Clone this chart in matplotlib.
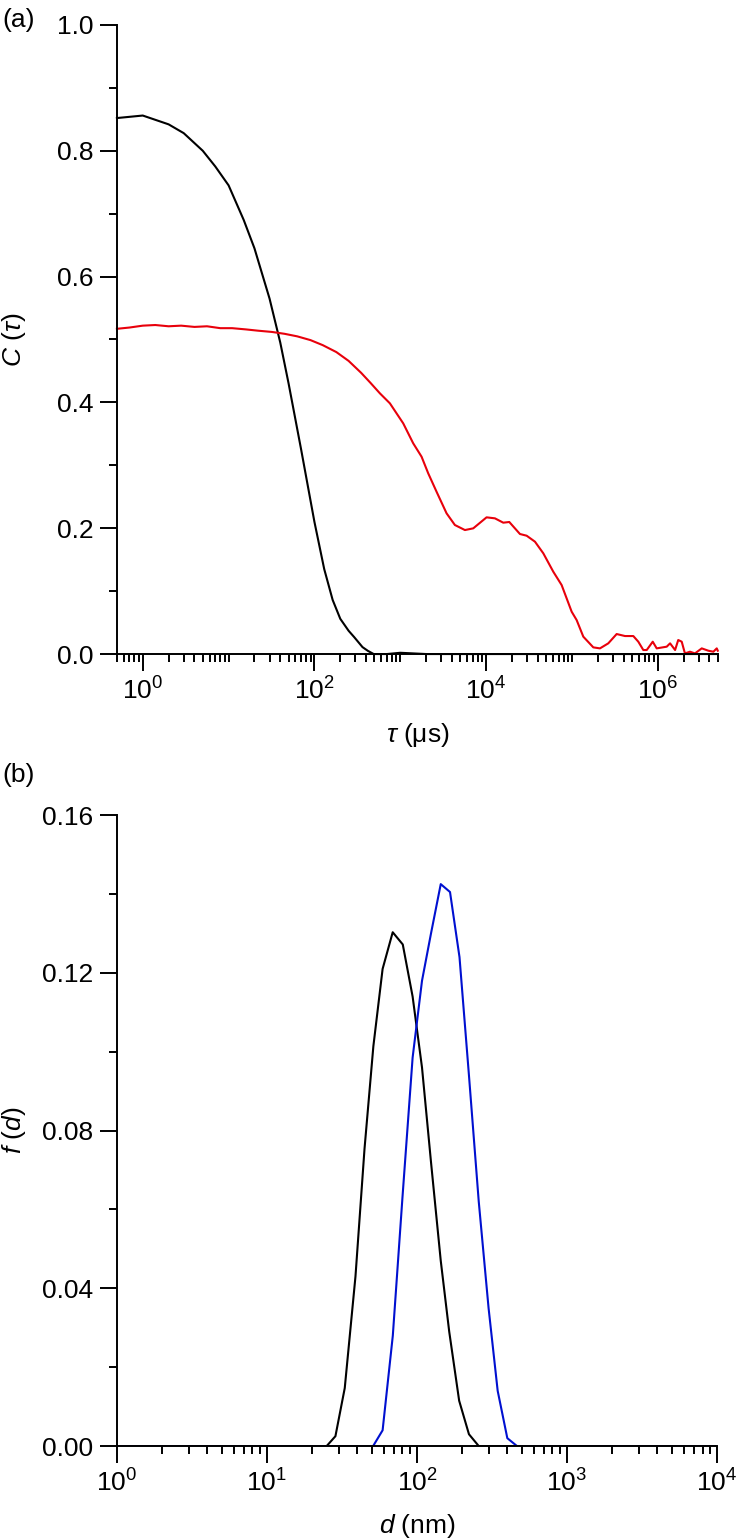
import numpy as np
import matplotlib
matplotlib.use('Agg')
import matplotlib.pyplot as plt
from matplotlib.ticker import (FixedLocator, LogLocator, MultipleLocator,
                               FormatStrFormatter, LogFormatterSciNotation)

# ------------ DATA ------------
# (a) correlation functions
tau_black = [0.5, 1, 2, 3, 5, 7, 10, 15, 20, 30, 40, 50, 70, 100, 130, 163,
             200, 250, 290, 363, 420, 490, 700, 1000, 2000, 1e4, 1e5, 1e6, 5e6]
c_black = [0.852, 0.856, 0.842, 0.828, 0.80, 0.775, 0.745, 0.69, 0.645,
           0.565, 0.495, 0.43, 0.325, 0.21, 0.135, 0.086, 0.056, 0.037,
           0.027, 0.011, 0.005, 0.0, 0.0, 0.002, 0.0, 0.0, 0.0, 0.0, 0.0]

tau_red = [0.5, 0.7, 1, 1.4, 2, 2.8, 4, 5.6, 8, 11, 16, 22, 32, 45, 63, 90,
           125, 180, 250, 350, 450, 578, 757, 1082, 1414, 1770, 2115, 2646,
           3461, 4326, 5662, 7080, 10120, 12670, 15840, 18620, 24780, 29650,
           37070, 46370, 60580, 75800, 99200, 1.134e5, 1.356e5, 1.773e5,
           2.12e5, 2.65e5, 3.317e5, 4.15e5, 5.185e5, 5.93e5, 6.78e5, 7.43e5,
           8.73e5, 9.71e5, 1.27e6, 1.39e6, 1.59e6, 1.73e6, 1.9e6, 2.07e6,
           2.37e6, 2.71e6, 3.25e6, 3.88e6, 4.44e6, 4.86e6, 5.0e6]
c_red = [0.517, 0.519, 0.522, 0.523, 0.521, 0.522, 0.520, 0.521, 0.518,
         0.518, 0.516, 0.514, 0.512, 0.509, 0.505, 0.499, 0.491, 0.480,
         0.466, 0.447, 0.431, 0.4145, 0.3985, 0.3667, 0.335, 0.3137, 0.2873,
         0.258, 0.2237, 0.2051, 0.1971, 0.1998, 0.2173, 0.2157, 0.2088,
         0.2099, 0.1908, 0.1881, 0.1786, 0.1601, 0.1309, 0.1097, 0.0673,
         0.054, 0.0276, 0.0106, 0.009, 0.017, 0.0318, 0.0286, 0.0286, 0.0196,
         0.0064, 0.0064, 0.0196, 0.009, 0.0117, 0.017, 0.0064, 0.0223,
         0.0196, 0.001, 0.0037, 0.001, 0.009, 0.0053, 0.0037, 0.009, 0.0053]

# (b) size distributions
d_black = [1, 25, 28.6, 33, 38.9, 44.7, 51.2, 59, 68.9, 80.4, 93.5, 108, 124,
           144, 164, 191, 222, 258, 1e4]
f_black = [0.0, 0.0, 0.0025, 0.0147, 0.043, 0.0754, 0.1014, 0.121, 0.1303,
           0.1272, 0.114, 0.096, 0.072, 0.047, 0.029, 0.0115, 0.003, 0.0, 0.0]

d_blue = [1, 51, 59, 69, 80, 93.5, 108, 124, 144, 166, 192, 222, 258, 300,
          345, 400, 464, 1e4]
f_blue = [0.0, 0.0, 0.004, 0.028, 0.063, 0.0985, 0.118, 0.130, 0.1425,
          0.1405, 0.124, 0.094, 0.062, 0.035, 0.014, 0.002, 0.0, 0.0]

# ------------ STYLE ------------
plt.rcParams['font.family'] = ['Liberation Sans', 'DejaVu Sans']
plt.rcParams['mathtext.fontset'] = 'custom'
plt.rcParams['mathtext.rm'] = 'Liberation Sans'
plt.rcParams['mathtext.it'] = 'Liberation Sans:italic'
FS = 19


def style_axis(ax):
    for s in ['top', 'right']:
        ax.spines[s].set_visible(False)
    for s in ['left', 'bottom']:
        ax.spines[s].set_linewidth(1.4)
    ax.tick_params(which='major', direction='out', length=12, width=1.4,
                   pad=5, labelsize=FS)
    ax.tick_params(which='minor', direction='out', length=5.5, width=1.4)


fig = plt.figure(figsize=(7.4, 15.4), dpi=100)

# ------------ PANEL (a) ------------
ax1 = fig.add_axes([0.158, 0.5753, 0.812, 0.4085])
ax1.plot(tau_black, c_black, color='black', lw=1.5, clip_on=False)
ax1.plot(tau_red, c_red, color='#e8000b', lw=1.5, clip_on=False)
ax1.set_xscale('log')
ax1.set_xlim(0.5, 5e6)
ax1.set_ylim(0, 1.0)
ax1.xaxis.set_major_locator(FixedLocator([1, 1e2, 1e4, 1e6]))
ax1.xaxis.set_major_formatter(LogFormatterSciNotation())
ax1.xaxis.set_minor_locator(LogLocator(base=10, subs=np.arange(1, 10), numticks=100))
ax1.xaxis.set_minor_formatter(plt.NullFormatter())
ax1.yaxis.set_major_locator(MultipleLocator(0.2))
ax1.yaxis.set_minor_locator(MultipleLocator(0.1))
ax1.yaxis.set_major_formatter(FormatStrFormatter('%.1f'))
style_axis(ax1)
ax1.set_xlabel(r'$\mathit{\tau}$ (μs)', fontsize=FS)
ax1.xaxis.set_label_coords(0.5, -0.106)
ax1.set_ylabel(r'$\mathit{C}$ ($\mathit{\tau}$)', fontsize=FS)
ax1.yaxis.set_label_coords(-0.148, 0.5)
fig.text(0.003, 0.987, '(a)', fontsize=FS, va='center', ha='left')

# ------------ PANEL (b) ------------
ax2 = fig.add_axes([0.158, 0.0610, 0.811, 0.4097])
ax2.plot(d_black, f_black, color='black', lw=1.5)
ax2.plot(d_blue, f_blue, color='#0010d0', lw=1.5)
ax2.set_xscale('log')
ax2.set_xlim(1, 1e4)
ax2.set_ylim(0, 0.16)
ax2.xaxis.set_major_locator(FixedLocator([1, 10, 100, 1e3, 1e4]))
ax2.xaxis.set_major_formatter(LogFormatterSciNotation())
ax2.xaxis.set_minor_locator(LogLocator(base=10, subs=np.arange(2, 10), numticks=100))
ax2.xaxis.set_minor_formatter(plt.NullFormatter())
ax2.yaxis.set_major_locator(MultipleLocator(0.04))
ax2.yaxis.set_minor_locator(MultipleLocator(0.02))
ax2.yaxis.set_major_formatter(FormatStrFormatter('%.2f'))
style_axis(ax2)
ax2.set_xlabel(r'$\mathit{d}$ (nm)', fontsize=FS)
ax2.xaxis.set_label_coords(0.5, -0.104)
ax2.set_ylabel(r'$\mathit{f}$ ($\mathit{d}$)', fontsize=FS)
ax2.yaxis.set_label_coords(-0.148, 0.5)
fig.text(0.003, 0.4968, '(b)', fontsize=FS, va='center', ha='left')

fig.savefig('out.png', dpi=100)
